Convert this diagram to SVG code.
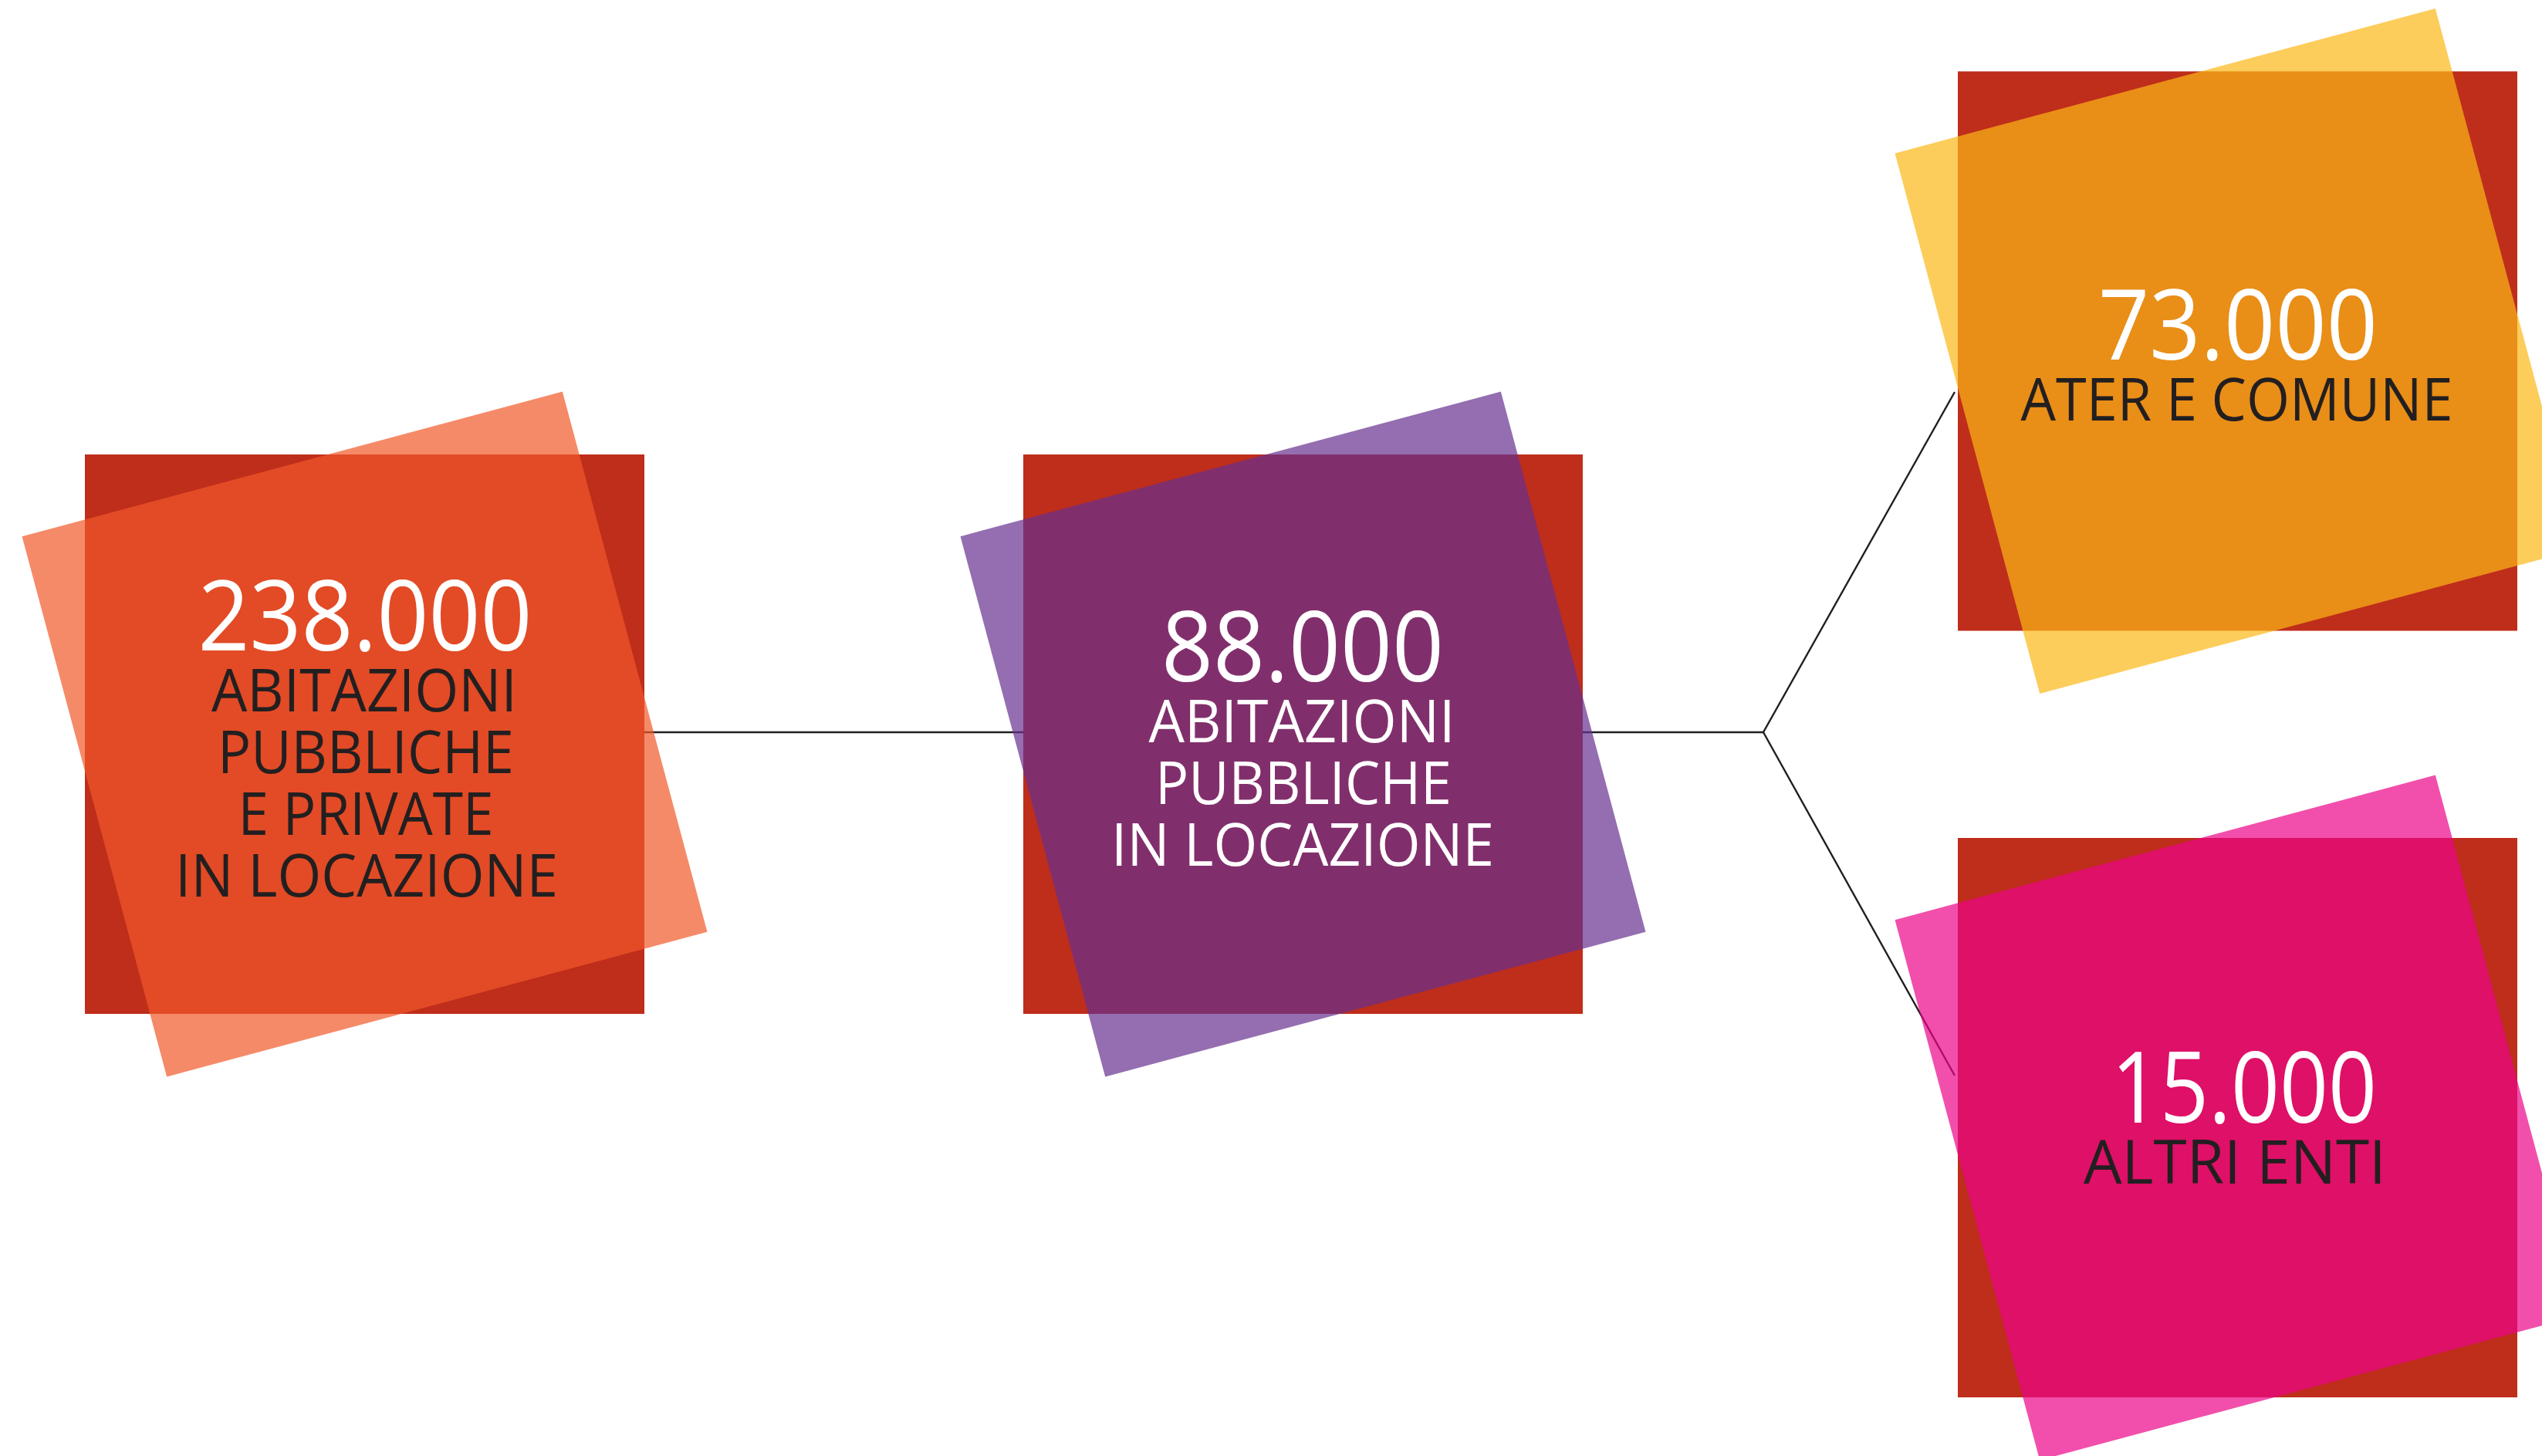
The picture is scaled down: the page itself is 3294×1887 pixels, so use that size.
<svg xmlns="http://www.w3.org/2000/svg" width="3294" height="1887" viewBox="0 0 3294 1887">
  <style>
    .bg{fill:#FFFFFF}
    .sq{fill:#BF2D1B}
    .ov{fill-opacity:0.7}
    .t{font-family:"Open Sans","Liberation Sans",sans-serif;text-anchor:middle}
    .num{font-size:126px;fill:#FFFFFF}
    .lbl{font-size:76px}
    .dk{fill:#231F20}
    .wh{fill:#FFFFFF}
    .conn{stroke:#231F20;stroke-width:2.4;fill:none;stroke-linejoin:miter}
  </style>
  <rect class="bg" x="0" y="0" width="3294" height="1887"/>

  <g id="connectors">
    <line class="conn" x1="834" y1="949" x2="1327" y2="949"/>
    <line class="conn" x1="2050" y1="949" x2="2285" y2="949"/>
    <polyline class="conn" points="2533,508 2285,949 2533,1394"/>
  </g>

  <g id="node-238000">
    <rect class="sq" x="110" y="589" width="725" height="725"/>
    <rect class="ov" fill="#F1592A" x="110" y="589" width="725" height="725" transform="rotate(-15 472.5 951.5)"/>
    <text class="t num" x="473" y="843" textLength="433" lengthAdjust="spacingAndGlyphs">238.000</text>
    <text class="t lbl dk" x="472" y="922" textLength="396" lengthAdjust="spacingAndGlyphs">ABITAZIONI</text>
    <text class="t lbl dk" x="474" y="1002" textLength="384" lengthAdjust="spacingAndGlyphs">PUBBLICHE</text>
    <text class="t lbl dk" x="474" y="1082" textLength="331" lengthAdjust="spacingAndGlyphs">E PRIVATE</text>
    <text class="t lbl dk" x="475" y="1162" textLength="496" lengthAdjust="spacingAndGlyphs">IN LOCAZIONE</text>
  </g>

  <g id="node-88000">
    <rect class="sq" x="1326" y="589" width="725" height="725"/>
    <rect class="ov" fill="#66308E" x="1326" y="589" width="725" height="725" transform="rotate(-15 1688.5 951.5)"/>
    <text class="t num" x="1688" y="883" textLength="366" lengthAdjust="spacingAndGlyphs">88.000</text>
    <text class="t lbl wh" x="1687" y="962" textLength="397" lengthAdjust="spacingAndGlyphs">ABITAZIONI</text>
    <text class="t lbl wh" x="1689" y="1042" textLength="384" lengthAdjust="spacingAndGlyphs">PUBBLICHE</text>
    <text class="t lbl wh" x="1688" y="1122" textLength="496" lengthAdjust="spacingAndGlyphs">IN LOCAZIONE</text>
  </g>

  <g id="node-73000">
    <rect class="sq" x="2537" y="92.5" width="725" height="725"/>
    <rect class="ov" fill="#FBB816" x="2537" y="92.5" width="725" height="725" transform="rotate(-15 2899.5 455)"/>
    <text class="t num" x="2900" y="466" textLength="362" lengthAdjust="spacingAndGlyphs">73.000</text>
    <text class="t lbl dk" x="2898.5" y="545" textLength="560" lengthAdjust="spacingAndGlyphs">ATER E COMUNE</text>
  </g>

  <g id="node-15000">
    <rect class="sq" x="2537" y="1086" width="725" height="725"/>
    <rect class="ov" fill="#EB0487" x="2537" y="1086" width="725" height="725" transform="rotate(-15 2899.5 1448.5)"/>
    <text class="t num" x="2908" y="1455" textLength="344" lengthAdjust="spacingAndGlyphs" style="font-size:128px">15.000</text>
    <text class="t lbl dk" x="2896" y="1534" textLength="392" lengthAdjust="spacingAndGlyphs" style="font-size:78px">ALTRI ENTI</text>
  </g>
</svg>
